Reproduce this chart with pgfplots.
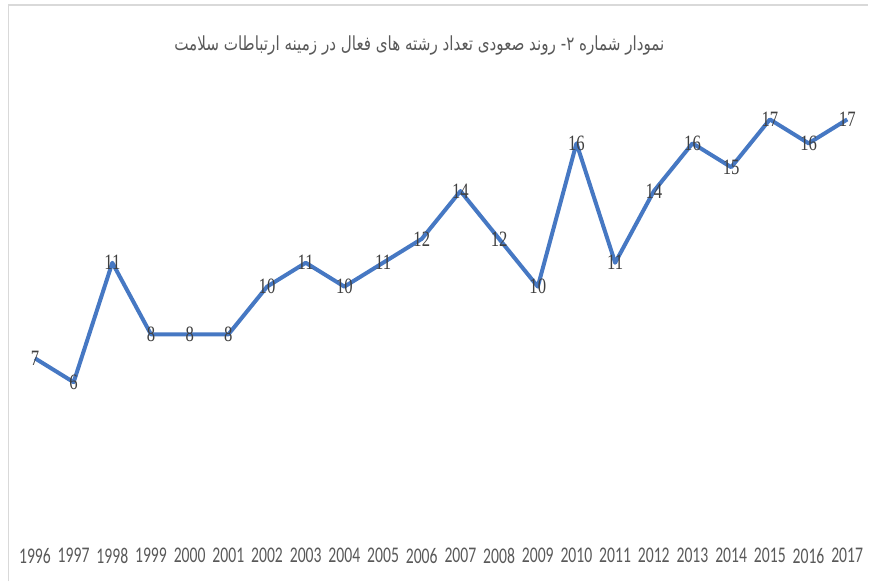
\documentclass[border=0pt]{standalone}
\usepackage{pgfplots}
\pgfplotsset{compat=1.18}
\usepackage{fontspec}
\setmainfont{Liberation Serif}
\TeXXeTstate=1
\newfontfamily\arabicfont[Script=Arabic, FakeStretch=0.78]{DejaVu Sans}
\newfontfamily\yearfont[FakeStretch=0.70]{Carlito}
\newfontfamily\labfont[FakeStretch=0.76]{Liberation Serif}
\definecolor{lineblue}{RGB}{70,120,195}
\definecolor{txtgray}{RGB}{64,64,64}
\definecolor{titlegray}{RGB}{89,89,89}
\definecolor{framegray}{RGB}{217,217,217}
\begin{document}
\begin{tikzpicture}
\begin{axis}[
  scale only axis,
  width=869bp, height=582bp,
  xmin=1995.096, xmax=2017.543,
  ymin=-2.343, ymax=22.0,
  axis line style={draw=none},
  tick style={draw=none},
  ytick=\empty,
  xtick={1996,...,2017},
  xticklabels={1996,1997,1998,1999,2000,2001,2002,2003,2004,2005,2006,2007,2008,2009,2010,2011,2012,2013,2014,2015,2016,2017},
  xticklabel style={anchor=center, yshift=26bp, font=\yearfont\fontsize{22.5}{24}\selectfont, text=titlegray},
  clip=false,
  /pgf/number format/assume math mode=true,
  nodes near coords,
  every node near coord/.append style={anchor=center, font=\labfont\fontsize{22}{24}\selectfont, text=txtgray},
  title={\arabicfont\fontsize{19.5}{22}\selectfont\beginR نمودار شماره ۲- روند صعودی تعداد رشته های فعال در زمینه ارتباطات سلامت\endR},
  title style={at={(rel axis cs:0.483,0.912)}, anchor=center, text=titlegray},
]
\draw[framegray, line width=1.5bp] (rel axis cs:0.0095,0) -- (rel axis cs:0.0095,0.9914) -- (rel axis cs:1,0.9914);
\addplot[lineblue, line width=4bp, line join=round, mark=none] coordinates {
(1996,7) (1997,6) (1998,11) (1999,8) (2000,8) (2001,8) (2002,10) (2003,11)
(2004,10) (2005,11) (2006,12) (2007,14) (2008,12) (2009,10) (2010,16) (2011,11)
(2012,14) (2013,16) (2014,15) (2015,17) (2016,16) (2017,17)
};
\end{axis}
\end{tikzpicture}
\end{document}
